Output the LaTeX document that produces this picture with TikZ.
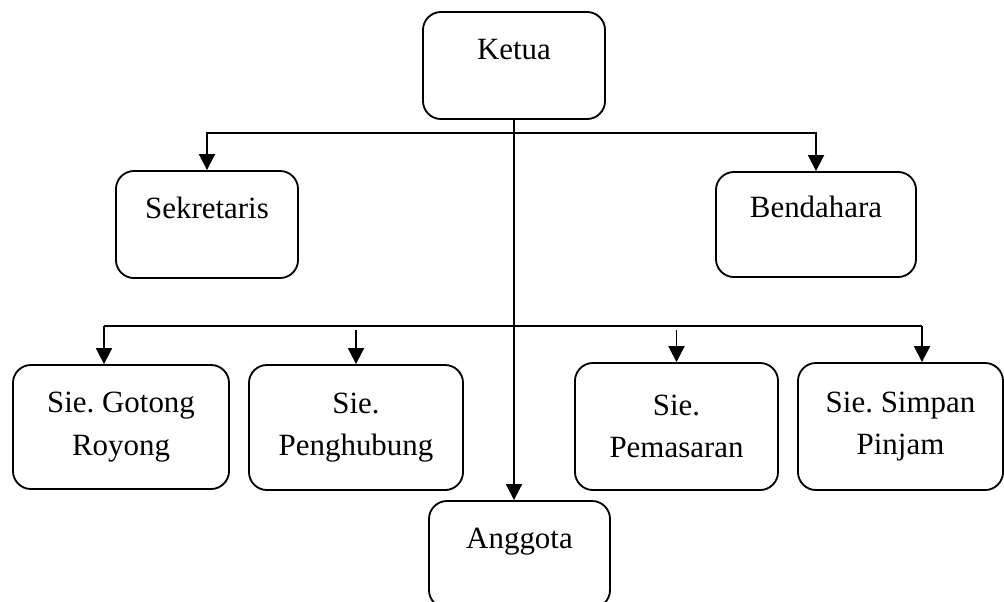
\documentclass[tikz,border=0pt]{standalone}
\usepackage{fontspec}
\setmainfont{Liberation Serif}
\frenchspacing
\usetikzlibrary{arrows.meta,positioning,calc}
\tikzset{
  box/.style={draw,line width=1.3pt,rounded corners=0.45cm,align=center,font=\fontsize{22}{30}\selectfont,inner sep=2pt},
  arr/.style={-{Triangle[length=4mm,width=4mm]},line width=1.3pt},
  lin/.style={line width=1.3pt}
}
\begin{document}
\begin{tikzpicture}[x=0.025cm,y=-0.025cm,
 lbl/.style={font=\fontsize{22}{30}\selectfont,anchor=base,inner sep=0pt}]
\useasboundingbox (0,0) rectangle (1004,601);
\clip (0,0) rectangle (1004,601);
% top level
\node[box,minimum width=4.55cm,minimum height=2.675cm] (ketua) at (514,65.5) {};
\node[lbl] (ketuaT) at ($(ketua.center)+(0,-6.5)$) {Ketua};
\node[box,minimum width=4.55cm,minimum height=2.675cm] (sekretaris) at (207,224.5) {};
\node[lbl] (sekretarisT) at ($(sekretaris.center)+(0,-6.5)$) {Sekretaris};
\node[box,minimum width=5cm,minimum height=2.625cm] (bendahara) at (816,224.5) {};
\node[lbl] (bendaharaT) at ($(bendahara.center)+(0,-7.5)$) {Bendahara};
% seksi
\node[box,minimum width=5.4cm,minimum height=3.1cm] (gotong) at (121,427) {Sie. Gotong\\Royong};
\node[box,minimum width=5.35cm,minimum height=3.125cm] (penghubung) at (356,427.5) {Sie.\\Penghubung};
\node[box,minimum width=5.075cm,minimum height=3.175cm] (pemasaran) at (676.5,426.5) {Sie.\\Pemasaran};
\node[box,minimum width=5.125cm,minimum height=3.175cm] (simpan) at (900.5,426.5) {Sie. Simpan\\Pinjam};
% anggota
\node[box,minimum width=4.525cm,minimum height=2.675cm] (anggota) at (519.5,554.5) {};
\node[lbl] (anggotaT) at ($(anggota.center)+(0,-6.5)$) {Anggota};
% connectors
\coordinate (bus1) at (514,133);
\coordinate (busL) at (104,326);
\coordinate (busR) at (922,326);
\draw[arr] (ketua.south) -- (ketua.south |- anggota.north);
\draw[arr] (bus1) -| (sekretaris.north);
\draw[arr] (bus1) -| (bendahara.north);
\draw[lin] (busL) -- (busR);
\draw[arr] (busL) -- (busL |- gotong.north);
\draw[arr] (busR) -- (busR |- simpan.north);
\draw[arr] ($(penghubung.north |- busL)+(0,4)$) -- (penghubung.north);
\draw[arr] ($(pemasaran.north |- busL)+(0,4)$) -- (pemasaran.north);
\end{tikzpicture}
\end{document}
